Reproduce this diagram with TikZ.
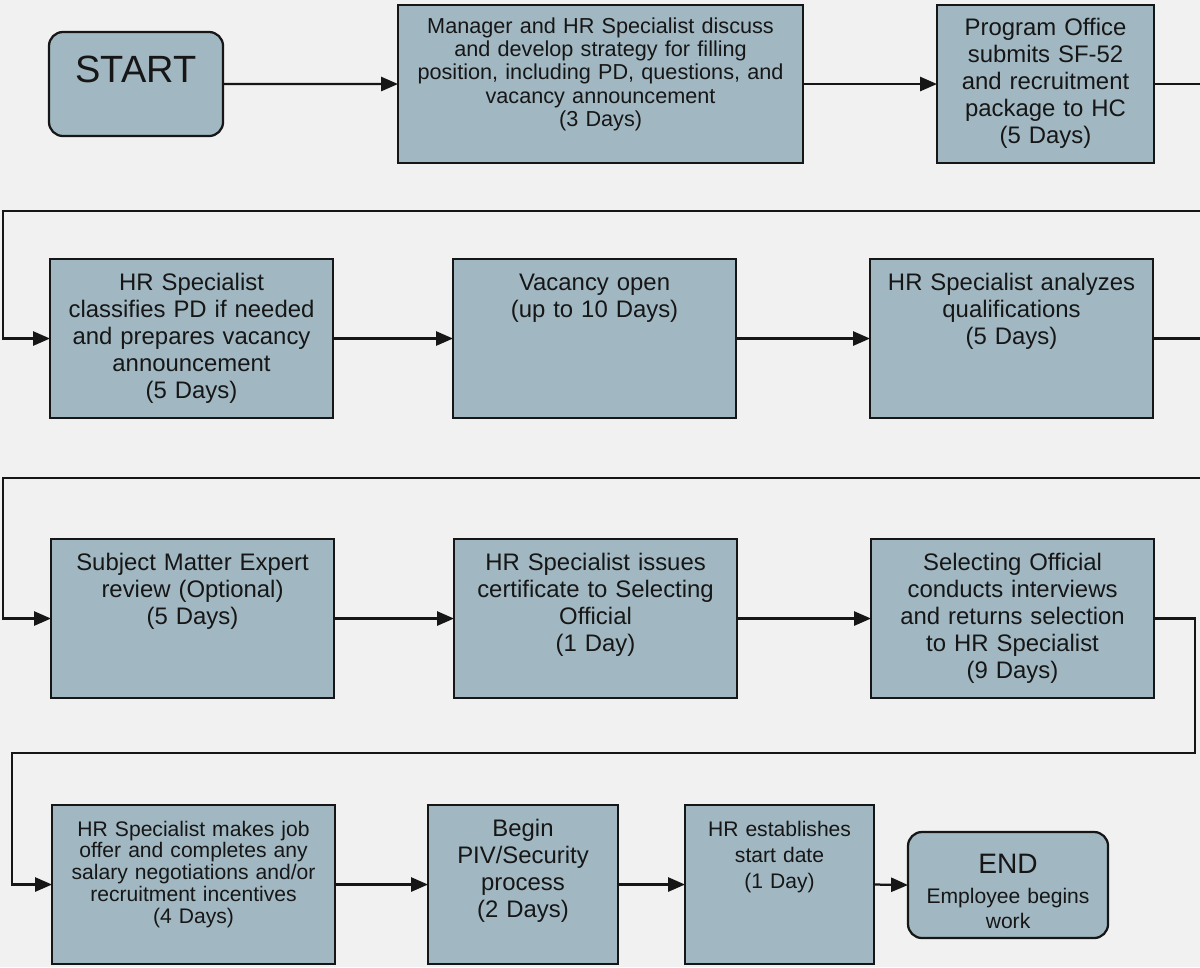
\documentclass[tikz,border=0pt]{standalone}
\usepackage{fontspec}
\setmainfont{Liberation Sans}
\usetikzlibrary{arrows.meta}
\definecolor{boxfill}{RGB}{161,184,194}
\definecolor{paper}{RGB}{241,241,241}
\definecolor{ink}{RGB}{22,22,22}
\def\fs#1#2{\fontsize{#1}{#2}\selectfont}

\begin{document}
\begin{tikzpicture}[x=0.025cm,y=-0.025cm,
  stepbox/.style={draw=ink,line width=1.6pt,fill=boxfill,text=ink,inner sep=0pt,outer sep=0pt,
    anchor=north west,align=center,font=\fs{17}{19.2},text width=7.075cm,
    text height=0.775cm,text depth=3.2cm},
  endbox/.style={stepbox,rounded corners=0.35cm},
  flow/.style={draw=ink,line width=1.6pt,-{Triangle[length=12pt,width=10pt]}}]%<<<
\useasboundingbox (0,0) rectangle (1200,967);
\fill[paper] (0,0) rectangle (1200,967);
% row 1
\node[endbox,text width=4.35cm,text height=1.25cm,text depth=1.35cm,font=\fs{27}{30}]
  (start) at (49,32) {START};
\node[stepbox,text width=10.125cm,text height=0.7cm,text depth=3.25cm,font=\fs{15.4}{16.7}]
  (b1) at (398,5) {Manager and HR Specialist discuss\\and develop strategy for filling\\
  position, including PD, questions, and\\vacancy announcement\\(3 Days)};
\node[stepbox,text width=5.425cm,text height=0.75cm,text depth=3.2cm]
  (b2) at (937,5) {Program Office\\submits SF-52\\and recruitment\\package to HC\\(5 Days)};
% row 2
\node[stepbox] (b3) at (50,259) {HR Specialist\\classifies PD if needed\\and prepares vacancy\\announcement\\(5 Days)};
\node[stepbox] (b4) at (453,259) {Vacancy open\\(up to 10 Days)};
\node[stepbox] (b5) at (870,259) {HR Specialist analyzes\\qualifications\\(5 Days)};
% row 3
\node[stepbox] (b6) at (51,539) {Subject Matter Expert\\review (Optional)\\(5 Days)};
\node[stepbox] (b7) at (454,539) {HR Specialist issues\\certificate to Selecting\\Official\\(1 Day)};
\node[stepbox] (b8) at (871,539) {Selecting Official\\conducts interviews\\and returns selection\\to HR Specialist\\(9 Days)};
% row 4
\node[stepbox,font=\fs{15}{15.6}] (b9) at (52,805) {HR Specialist makes job\\offer and completes any\\
  salary negotiations and/or\\recruitment incentives\\(4 Days)};
\node[stepbox,text width=4.75cm] (b10) at (428,805) {Begin\\PIV/Security\\process\\(2 Days)};
\node[stepbox,text width=4.725cm,font=\fs{15}{18.5}] (b11) at (685,805) {HR establishes\\start date\\(1 Day)};
\node[endbox,text width=5cm,text height=1.025cm,text depth=1.625cm,font=\fs{15}{17.8}]
  (end) at (908,832) {{\fs{20}{22}END}\\[4pt]Employee begins\\work};
% connectors
\draw[flow] (start.east) -- (b1.west);
\draw[flow] (b1.east) -- (b2.west);
\draw[flow] (b2.east) -| (1201,211) -- (3,211) |- (b3.west);
\draw[flow] (b3.east) -- (b4.west);
\draw[flow] (b4.east) -- (b5.west);
\draw[flow] (b5.east) -| (1201,478) -- (3,478) |- (b6.west);
\draw[flow] (b6.east) -- (b7.west);
\draw[flow] (b7.east) -- (b8.west);
\draw[flow] (b8.east) -| (1195,753) -- (12,753) |- (b9.west);
\draw[flow] (b9.east) -- (b10.west);
\draw[flow] (b10.east) -- (b11.west);
\draw[flow] (b11.east) -- (end.west);
\end{tikzpicture}
\end{document}
